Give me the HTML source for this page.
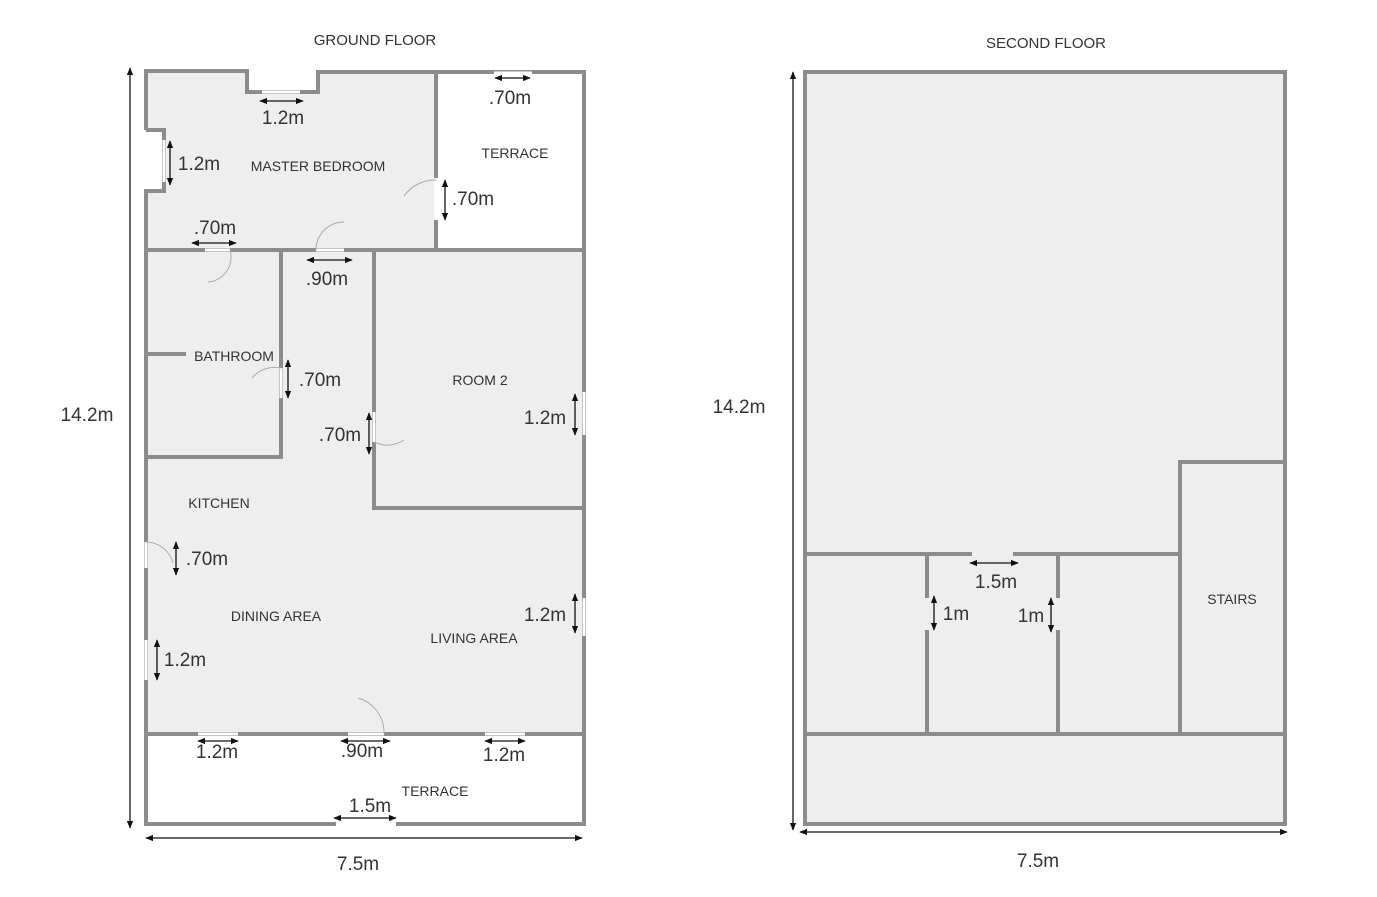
<!DOCTYPE html><html><head><style>body{margin:0;background:#fff}svg{display:block}text{font-family:"Liberation Sans",sans-serif;fill:#333}.l{font-size:14px}.d{font-size:19px;fill:#222}</style></head><body>
<svg width="1377" height="897" viewBox="0 0 1377 897">
<defs><marker id="a" viewBox="0 0 10 10" refX="9" refY="5" markerWidth="6" markerHeight="6" orient="auto-start-reverse"><path d="M0,1 L10,5 L0,9z" fill="#111"/></marker></defs>
<g fill="#eeeeee" stroke="none">
<path d="M146,71 H247 V92 H318 V72 H436 V250 H584 V734 H146 V191 H164 V130 H146Z"/>
<rect x="805" y="72" width="480" height="752"/>
</g>
<g fill="none" stroke="#8c8c8c" stroke-width="4">
<path d="M146,130 V71 H247 V92 H318 V72 H584 V824 H396 M336,824 H146 V191 H164 V130 H146"/>
<path d="M436,72 V178 M436,220 V250 M146,250 H584"/>
<path d="M146,457 H281 V250 M146,354 H186 M374,250 V508 H584 M146,734 H584"/>
<rect x="805" y="72" width="480" height="752"/>
<path d="M805,554 H972 M1013,554 H1180 M1180,734 V462 H1285 M805,734 H1285 M927,554 V598 M927,630 V734 M1058,554 V598 M1058,630 V734"/>
</g>
<g fill="none" stroke="#fff" stroke-width="3">
<path d="M494,73 H532 M336,824 H396 M262,92 H300 M164,140 V182 M436,180 V218 M316,250 H344 M205,250 H230 M281,368 V398 M374,412 V442 M584,392 V435 M146,542 V568 M584,598 V636 M146,640 V680 M198,734 H238 M348,734 H384 M485,734 H525"/>
</g>
<g fill="none" stroke="#aaa" stroke-width="1">
<path d="M316,250 A28,28 0 0 1 344,222 M436,180 A38,38 0 0 0 404,196 M230,250 A25,25 0 0 1 208,282 M281,368 A30,30 0 0 0 252,378 M374,442 A30,30 0 0 0 404,440 M146,542 A28,28 0 0 1 173,563 M384,734 A36,36 0 0 0 358,698"/>
</g>
<g stroke="#111" stroke-width="1.3" marker-start="url(#a)" marker-end="url(#a)">
<line x1="130" y1="68" x2="130" y2="828"/><line x1="146" y1="838" x2="582" y2="838"/>
<line x1="793" y1="72" x2="793" y2="830"/><line x1="800" y1="832" x2="1287" y2="832"/>
<line x1="260" y1="101" x2="303" y2="101"/><line x1="170" y1="141" x2="170" y2="185"/>
<line x1="192" y1="243" x2="236" y2="243"/><line x1="495" y1="78" x2="530" y2="78"/>
<line x1="445" y1="180" x2="445" y2="220"/><line x1="307" y1="260" x2="352" y2="260"/>
<line x1="288" y1="360" x2="288" y2="398"/><line x1="369" y1="413" x2="369" y2="454"/>
<line x1="575" y1="394" x2="575" y2="435"/><line x1="176" y1="542" x2="176" y2="575"/>
<line x1="575" y1="594" x2="575" y2="633"/><line x1="157" y1="640" x2="157" y2="680"/>
<line x1="198" y1="741" x2="238" y2="741"/><line x1="341" y1="741" x2="390" y2="741"/>
<line x1="485" y1="741" x2="525" y2="741"/><line x1="334" y1="818" x2="396" y2="818"/>
<line x1="970" y1="563" x2="1018" y2="563"/><line x1="934" y1="596" x2="934" y2="630"/>
<line x1="1051" y1="598" x2="1051" y2="632"/>
</g>
<g class="l" text-anchor="middle">
<text x="375" y="45" font-size="15">GROUND FLOOR</text><text x="1046" y="48" font-size="15">SECOND FLOOR</text>
<text x="318" y="171">MASTER BEDROOM</text><text x="515" y="158">TERRACE</text>
<text x="234" y="361">BATHROOM</text><text x="480" y="385">ROOM 2</text>
<text x="219" y="508">KITCHEN</text><text x="276" y="621">DINING AREA</text>
<text x="474" y="643">LIVING AREA</text><text x="435" y="796">TERRACE</text>
<text x="1232" y="604">STAIRS</text>
</g>
<g class="d" text-anchor="middle">
<text x="87" y="421">14.2m</text><text x="358" y="870">7.5m</text>
<text x="739" y="413">14.2m</text><text x="1038" y="867">7.5m</text>
<text x="283" y="124">1.2m</text><text x="199" y="170">1.2m</text>
<text x="215" y="234">.70m</text><text x="510" y="104">.70m</text>
<text x="473" y="205">.70m</text><text x="327" y="285">.90m</text>
<text x="320" y="386">.70m</text><text x="340" y="441">.70m</text>
<text x="545" y="424">1.2m</text><text x="207" y="565">.70m</text>
<text x="545" y="621">1.2m</text><text x="185" y="666">1.2m</text>
<text x="217" y="758">1.2m</text><text x="362" y="757">.90m</text>
<text x="504" y="761">1.2m</text><text x="370" y="812">1.5m</text>
<text x="996" y="588">1.5m</text><text x="956" y="620">1m</text>
<text x="1031" y="622">1m</text>
</g>
</svg></body></html>
